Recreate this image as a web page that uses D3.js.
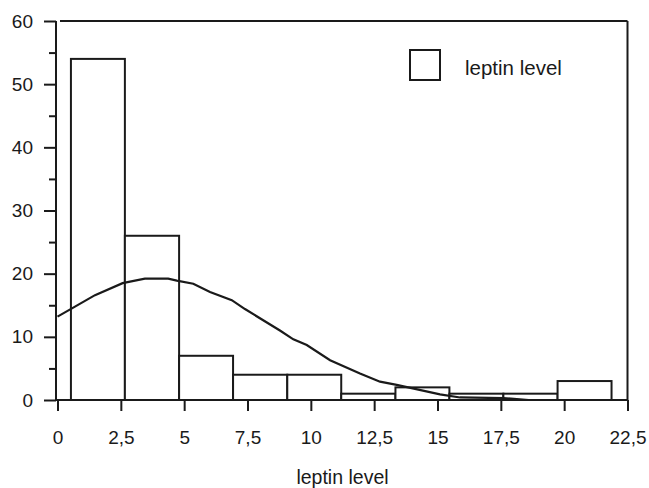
<!DOCTYPE html>
<html>
<head>
<meta charset="utf-8">
<script src="https://cdn.jsdelivr.net/npm/d3@7"></script>
<style>
  body { margin: 0; background: #fff; }
  text { font-family: "Liberation Sans", Arial, sans-serif; fill: #1a1a1a; }
</style>
</head>
<body>
<svg id="chart" width="649" height="488"></svg>
<script>
// histogram bins (leptin level) and counts
const binEdges = [0.53, 2.66, 4.8, 6.93, 9.07, 11.2, 13.34, 15.47, 17.6, 19.74, 21.87];
const binCounts = [54, 26, 7, 4, 4, 1, 2, 1, 1, 3];

// fitted normal curve as drawn (x, y)
const curveX = [0, 0.57, 1.48, 2.57, 3.45, 4.37, 4.71, 5.36, 6.02, 6.88, 7.4, 8.78, 9.31, 9.84, 10.76, 11.94, 12.73, 13.39, 15.1, 15.89, 17.6, 18.6];
const curveY = [13.2, 14.5, 16.6, 18.5, 19.2, 19.2, 18.9, 18.4, 17.1, 15.8, 14.4, 11.0, 9.6, 8.7, 6.3, 4.2, 2.9, 2.4, 0.9, 0.4, 0.3, 0];

const xTicks = [0, 2.5, 5, 7.5, 10, 12.5, 15, 17.5, 20, 22.5];
const yTicks = [0, 10, 20, 30, 40, 50, 60];
const yMinor = [5, 15, 25, 35, 45, 55];

const svg = d3.select("#chart");
const x = d3.scaleLinear().domain([0, 22.5]).range([57.5, 627.5]);
const y = d3.scaleLinear().domain([0, 60]).range([400, 21]);
const ink = "#1a1a1a";
const fmt = d => String(d).replace(".", ",");

// frame: top + right
svg.append("line")
    .attr("x1", 60).attr("x2", x(22.5))
    .attr("y1", y(60)).attr("y2", y(60))
    .attr("stroke", ink).attr("stroke-width", 2);
svg.append("line")
    .attr("x1", x(22.5)).attr("x2", x(22.5))
    .attr("y1", y(60)).attr("y2", y(0))
    .attr("stroke", ink).attr("stroke-width", 2);

// bars
const bars = binCounts.map((c, i) => ({ x0: binEdges[i], x1: binEdges[i + 1], c }));
svg.append("g").selectAll("rect")
    .data(bars)
    .join("rect")
    .attr("x", d => x(d.x0))
    .attr("width", d => x(d.x1) - x(d.x0))
    .attr("y", d => y(d.c))
    .attr("height", d => y(0) - y(d.c))
    .attr("fill", "#fff")
    .attr("stroke", ink)
    .attr("stroke-width", 2);

// curve
const line = d3.line().x(d => x(d[0])).y(d => y(d[1]));
svg.append("path")
    .datum(d3.zip(curveX, curveY))
    .attr("d", line)
    .attr("fill", "none")
    .attr("stroke", ink)
    .attr("stroke-width", 2.2);

// y axis
const yAxis = svg.append("g").attr("transform", "translate(56,0)")
    .call(d3.axisLeft(y).tickValues(yTicks).tickSize(12).tickPadding(11).tickFormat(fmt));
yAxis.select(".domain").attr("d", `M0,${y(60)}V${y(0)}`);
svg.append("g").attr("transform", "translate(56,0)")
    .call(d3.axisLeft(y).tickValues(yMinor).tickSize(7).tickFormat(""))
    .select(".domain").remove();

// x axis
const xAxis = svg.append("g").attr("transform", `translate(0,${y(0)})`)
    .call(d3.axisBottom(x).tickValues(xTicks).tickSize(11).tickPadding(20).tickFormat(fmt));
xAxis.select(".domain").attr("d", `M55,0H${x(22.5)}`);

svg.selectAll(".tick line, .domain").attr("stroke", ink).attr("stroke-width", 2);
svg.selectAll(".tick text")
    .style("font-family", '"Liberation Sans", Arial, sans-serif')
    .style("font-size", "19px")
    .attr("fill", ink);

// axis title
svg.append("text")
    .attr("x", x(11.25)).attr("y", 484)
    .attr("text-anchor", "middle")
    .style("font-size", "19.5px")
    .text("leptin level");

// legend
svg.append("rect")
    .attr("x", 410).attr("y", 50).attr("width", 30).attr("height", 30)
    .attr("fill", "#fff").attr("stroke", ink).attr("stroke-width", 2);
svg.append("text")
    .attr("x", 465).attr("y", 75)
    .style("font-size", "20.5px")
    .text("leptin level");
</script>
</body>
</html>
